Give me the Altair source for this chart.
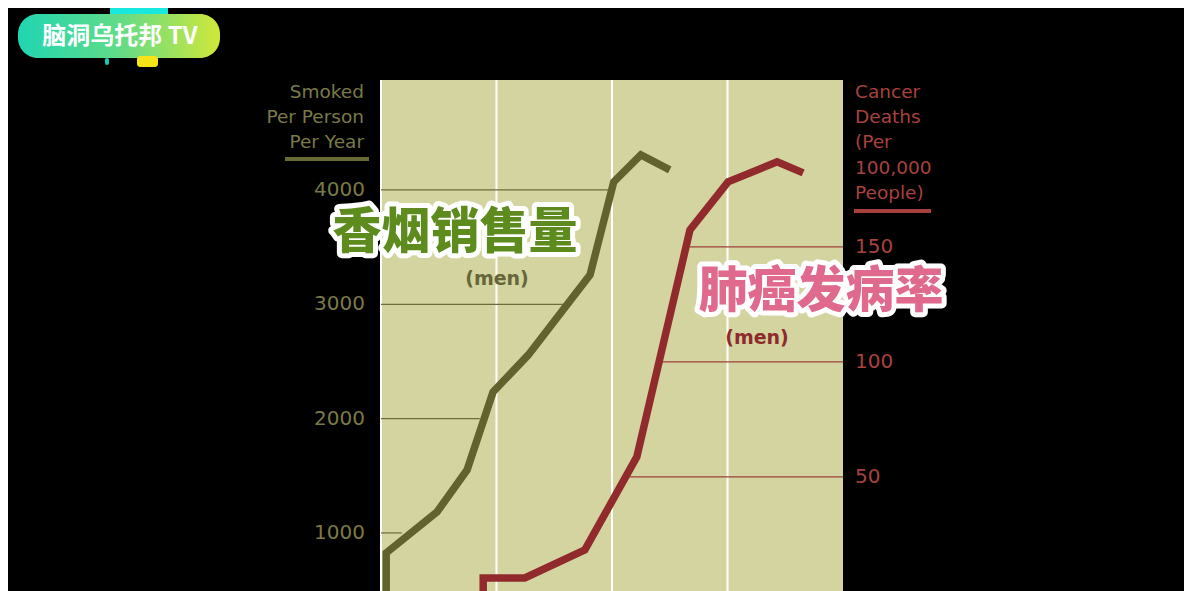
import altair as alt
import pandas as pd

# ---- data ----
cig_year = [1900.9, 1900.9, 1909.7, 1914.9, 1919.4, 1925.5, 1936.2, 1940.3, 1945.0, 1950.0]
cig_value = [0, 825, 1183, 1551, 2233, 2557, 3257, 4071, 4307, 4176]

cancer_year = [1917.7, 1917.7, 1924.9, 1935.3, 1944.3, 1953.5, 1960.1, 1968.6, 1973.1]
cancer_value = [0, 6.1, 6.1, 18.3, 58.7, 157.4, 178.3, 187.0, 182.2]

left_ticks = [1000, 2000, 3000, 4000]
left_leader_end = [1903.6, 1917.1, 1932.2, 1940.0]
right_ticks = [50, 100, 150]
right_leader_start = [1942.8, 1948.3, 1953.5]
x_grid = [1900, 1920, 1940, 1960]

left_title = "Smoked\nPer Person\nPer Year"
right_title = "Cancer\nDeaths\n(Per\n100,000\nPeople)"
cn_left = "香烟销售量"
cn_right = "肺癌发病率"
logo_text = "脑洞乌托邦 TV"

# ---- styling ----
W, H = 462, 511
BG_PLOT = "#d3d49f"
OLIVE = "#62622f"
OLIVE_TXT = "#7a7a48"
RED = "#912a2c"
RED_TXT = "#a8423d"
FONT = "DejaVu Sans"
CJK = "Noto Sans CJK SC"

cig_df = pd.DataFrame({"year": cig_year, "value": cig_value, "i": range(len(cig_year))})
can_df = pd.DataFrame({"year": cancer_year, "value": cancer_value, "i": range(len(cancer_year))})
ll_df = pd.DataFrame({"value": left_ticks, "label": [str(v) for v in left_ticks],
                      "x0": [1900] * len(left_ticks), "x1": left_leader_end})
rl_df = pd.DataFrame({"value": right_ticks, "label": [str(v) for v in right_ticks],
                      "x0": right_leader_start, "x1": [1980] * len(right_ticks)})
grid_df = pd.DataFrame({"g": x_grid})

xscale = alt.Scale(domain=[1900, 1980], nice=False, zero=False)
cig_scale = alt.Scale(domain=[492, 4962], nice=False, zero=False)
can_scale = alt.Scale(domain=[0.4, 222.6], nice=False, zero=False)

grid = alt.Chart(grid_df).mark_rule(color="white", strokeWidth=2).encode(
    x=alt.X("g:Q", scale=xscale, axis=None))

cig_lead = alt.Chart(ll_df).mark_rule(color="#6c6c3c", strokeWidth=1.2).encode(
    x=alt.X("x0:Q", scale=xscale, axis=None), x2="x1:Q",
    y=alt.Y("value:Q", scale=cig_scale, axis=None),
)
cig_lab = alt.Chart(ll_df).mark_text(align="right", baseline="middle", font=FONT, fontSize=20,
                                     color=OLIVE_TXT).encode(
    x=alt.value(-16), y=alt.Y("value:Q", scale=cig_scale, axis=None), text="label:N")
cig_line = alt.Chart(cig_df).mark_line(color=OLIVE, strokeWidth=7.5, clip=True, strokeJoin="miter").encode(
    x=alt.X("year:Q", scale=xscale, axis=None),
    y=alt.Y("value:Q", scale=cig_scale, axis=None),
    order="i:Q",
)
cig_layer = alt.layer(cig_lead, cig_lab, cig_line)

can_lead = alt.Chart(rl_df).mark_rule(color="#a0403a", strokeWidth=1.2).encode(
    x=alt.X("x0:Q", scale=xscale, axis=None), x2="x1:Q",
    y=alt.Y("value:Q", scale=can_scale, axis=None),
)
can_lab = alt.Chart(rl_df).mark_text(align="left", baseline="middle", font=FONT, fontSize=20,
                                     color=RED_TXT).encode(
    x=alt.value(W + 12), y=alt.Y("value:Q", scale=can_scale, axis=None), text="label:N")
can_line = alt.Chart(can_df).mark_line(color=RED, strokeWidth=7.5, clip=True, strokeJoin="miter").encode(
    x=alt.X("year:Q", scale=xscale, axis=None),
    y=alt.Y("value:Q", scale=can_scale, axis=None),
    order="i:Q",
)
can_layer = alt.layer(can_lead, can_lab, can_line)

one = pd.DataFrame({"k": [0]})
base = alt.Chart(one)

# axis titles and underline bars
lt = base.mark_text(text=left_title, lineBreak="\n", lineHeight=25, align="right", baseline="alphabetic",
                    font=FONT, fontSize=18.5, color=OLIVE_TXT).encode(x=alt.value(-17), y=alt.value(18))
lbar = base.mark_rule(color="#6a6a35", strokeWidth=4).encode(x=alt.value(-96), x2=alt.value(-12), y=alt.value(79))
rt = base.mark_text(text=right_title, lineBreak="\n", lineHeight=25.2, align="left", baseline="alphabetic",
                    font=FONT, fontSize=18.5, color=RED_TXT).encode(x=alt.value(474), y=alt.value(18))
rbar = base.mark_rule(color="#a8403c", strokeWidth=4).encode(x=alt.value(473), x2=alt.value(550), y=alt.value(131))

men1 = base.mark_text(text="(men)", font=FONT, fontSize=19, fontWeight="bold", color="#66663a",
                      align="center", baseline="middle").encode(x=alt.value(116), y=alt.value(199))
men2 = base.mark_text(text="(men)", font=FONT, fontSize=19, fontWeight="bold", color="#8e2a2c",
                      align="center", baseline="middle").encode(x=alt.value(376), y=alt.value(258))

def outlined(txt, color, x, y, size):
    o = base.mark_text(text=txt, font=CJK, fontSize=size, fontWeight=900, color="white", stroke="white",
                       strokeWidth=10, strokeJoin="round", align="center", baseline="middle").encode(
        x=alt.value(x), y=alt.value(y))
    f = base.mark_text(text=txt, font=CJK, fontSize=size, fontWeight=900, color=color,
                       align="center", baseline="middle").encode(x=alt.value(x), y=alt.value(y))
    return [o, f]

cn1 = outlined(cn_left, "#5e8b1d", 74, 153, 49)
cn2 = outlined(cn_right, "#e0698e", 440, 212, 49)

# logo
grad = alt.LinearGradient(gradient="linear", x1=0, x2=1, y1=0, y2=0,
                          stops=[alt.GradientStop(color="#1fd6b2", offset=0),
                                 alt.GradientStop(color="#62db88", offset=0.5),
                                 alt.GradientStop(color="#cfe83a", offset=1)])
logo_top = base.mark_rect(color="#19e8df").encode(x=alt.value(-271), x2=alt.value(-213), y=alt.value(-73), y2=alt.value(-64))
logo_bg = base.mark_rect(color=grad, cornerRadius=20).encode(x=alt.value(-363), x2=alt.value(-161), y=alt.value(-66), y2=alt.value(-22))
logo_y = base.mark_rect(color="#f4e418", cornerRadius=3).encode(x=alt.value(-244), x2=alt.value(-223), y=alt.value(-24), y2=alt.value(-13))
logo_dot = base.mark_rect(color="#19c9b8", cornerRadius=2).encode(x=alt.value(-276), x2=alt.value(-272), y=alt.value(-22), y2=alt.value(-15))
logo_t = base.mark_text(text=logo_text, font=CJK, fontSize=24, fontWeight="bold", color="white",
                        align="center", baseline="middle").encode(x=alt.value(-261), y=alt.value(-43))

chart = alt.layer(
    grid, cig_layer, can_layer, lt, lbar, rt, rbar, men1, men2, *cn1, *cn2,
    logo_top, logo_bg, logo_y, logo_dot, logo_t,
).resolve_scale(y="independent").properties(
    width=W, height=H,
    background="#000000",
    padding={"left": 373, "top": 72, "right": 341, "bottom": 0},
    autosize=alt.AutoSizeParams(type="none"),
).configure_view(fill=BG_PLOT, stroke=None)

chart.save("out.html", embed_options={"renderer": "svg", "actions": False})
